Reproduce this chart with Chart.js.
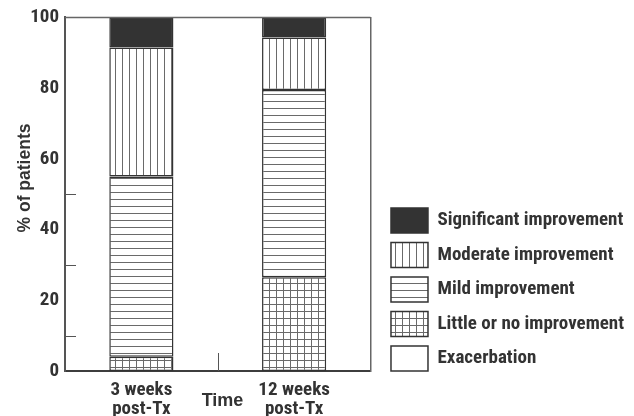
<!DOCTYPE html>
<html>
<head>
<meta charset="utf-8">
<script src="https://cdn.jsdelivr.net/npm/chart.js@4.4.1/dist/chart.umd.min.js"></script>
<style>
  html, body { margin: 0; padding: 0; background: #fff; }
  #wrap { width: 634px; height: 416px; }
</style>
</head>
<body>
<div id="wrap"><canvas id="chart"></canvas></div>
<script>
const categories = [['3 weeks', 'post-Tx'], ['12 weeks', 'post-Tx']];
const seriesNames = ['Exacerbation', 'Little or no improvement', 'Mild improvement', 'Moderate improvement', 'Significant improvement'];
const exacerbation = [0, 0];
const littleOrNo = [4, 26.5];
const mild = [51, 53];
const moderate = [36.5, 14.8];
const significant = [8.5, 5.7];
const yLabelTicks = [0, 20, 40, 60, 80, 100];
const yMinorTicks = [10, 30, 50];

const NARROW = "'Roboto Condensed', 'Liberation Sans Narrow', sans-serif";
const WIDE = "'Liberation Sans', Arial, sans-serif";
const INK = '#333';
const HATCH = '#6a6a6a';

const canvas = document.getElementById('chart');
const ctx = canvas.getContext('2d');

function makePattern(kind) {
    const c = document.createElement('canvas');
    c.width = 7;
    c.height = 7;
    const g = c.getContext('2d');
    g.fillStyle = '#fff';
    g.fillRect(0, 0, 7, 7);
    g.fillStyle = HATCH;
    if (kind === 'v' || kind === 'grid') g.fillRect(3, 0, 1, 7);
    if (kind === 'h' || kind === 'grid') g.fillRect(0, 3, 7, 1);
    return ctx.createPattern(c, 'repeat');
}

const fills = ['#fff', makePattern('grid'), makePattern('h'), makePattern('v'), '#333'];
const values = [exacerbation, littleOrNo, mild, moderate, significant];

const datasets = values.map((data, i) => ({
    label: seriesNames[i],
    data: data,
    backgroundColor: fills[i],
    borderColor: INK,
    borderWidth: 1.5,
    borderSkipped: false,
    barPercentage: 0.42,
    categoryPercentage: 1
}));

// frame, minor ticks, middle tick and the two axis titles
const decorations = {
    id: 'decorations',
    afterDraw(chart) {
        const { ctx, chartArea: area, scales: { x, y } } = chart;
        ctx.save();
        ctx.strokeStyle = '#666';
        ctx.lineWidth = 1.5;
        ctx.beginPath();
        ctx.moveTo(area.left, area.top);
        ctx.lineTo(area.right, area.top);
        ctx.stroke();

        ctx.strokeStyle = '#555';
        ctx.lineWidth = 1;
        yMinorTicks.forEach(v => {
            const py = Math.round(y.getPixelForValue(v)) + 0.5;
            ctx.beginPath();
            ctx.moveTo(area.left, py);
            ctx.lineTo(area.left + 11, py);
            ctx.stroke();
        });

        const mid = Math.round(x.getPixelForValue(0.5)) + 0.5;
        ctx.beginPath();
        ctx.moveTo(mid, area.bottom);
        ctx.lineTo(mid, area.bottom - 18);
        ctx.stroke();

        ctx.fillStyle = INK;
        ctx.font = 'bold 18px ' + WIDE;
        ctx.textAlign = 'center';
        ctx.textBaseline = 'middle';
        ctx.fillText('Time', mid + 4, area.bottom + 30);

        ctx.translate(25, 178);
        ctx.rotate(-Math.PI / 2);
        ctx.font = 'bold 17.5px ' + WIDE;
        ctx.fillText('% of patients', 0, 0);
        ctx.restore();
    }
};

new Chart(ctx, {
    type: 'bar',
    data: { labels: categories, datasets },
    options: {
        responsive: true,
        maintainAspectRatio: false,
        animation: false,
        layout: { padding: { top: 17, right: 0, bottom: 0, left: 0 } },
        plugins: {
            tooltip: { enabled: false },
            legend: {
                position: 'right',
                align: 'start',
                reverse: true,
                maxWidth: 400,
                title: {
                    display: true,
                    text: ' ',
                    font: { size: 10, lineHeight: 1 },
                    padding: { top: 171.5, bottom: 0 }
                },
                labels: {
                    boxWidth: 37,
                    boxHeight: 25,
                    padding: 9.5,
                    color: INK,
                    font: { family: NARROW, size: 19, weight: 'bold' }
                }
            }
        },
        scales: {
            x: {
                stacked: true,
                grid: { display: false, drawTicks: false },
                border: { display: true, color: '#3d3d3d', width: 2 },
                ticks: {
                    color: INK,
                    padding: 10,
                    font: { family: NARROW, size: 19, weight: 'bold', lineHeight: 1 }
                },
                afterFit(scale) { scale.height = 45; }
            },
            y: {
                stacked: true,
                min: 0,
                max: 100,
                afterBuildTicks(scale) { scale.ticks = yLabelTicks.map(v => ({ value: v })); },
                grid: { display: false, drawTicks: false },
                border: { display: true, color: '#555', width: 2 },
                ticks: {
                    color: INK,
                    padding: 6,
                    font: { family: NARROW, size: 19, weight: 'bold' }
                },
                afterFit(scale) { scale.width = 65; }
            },
            y2: {
                position: 'right',
                grid: { display: false, drawTicks: false },
                border: { display: true, color: '#666', width: 1.5 },
                ticks: { display: false },
                afterFit(scale) { scale.width = 11; }
            }
        }
    },
    plugins: [decorations]
});
</script>
</body>
</html>
